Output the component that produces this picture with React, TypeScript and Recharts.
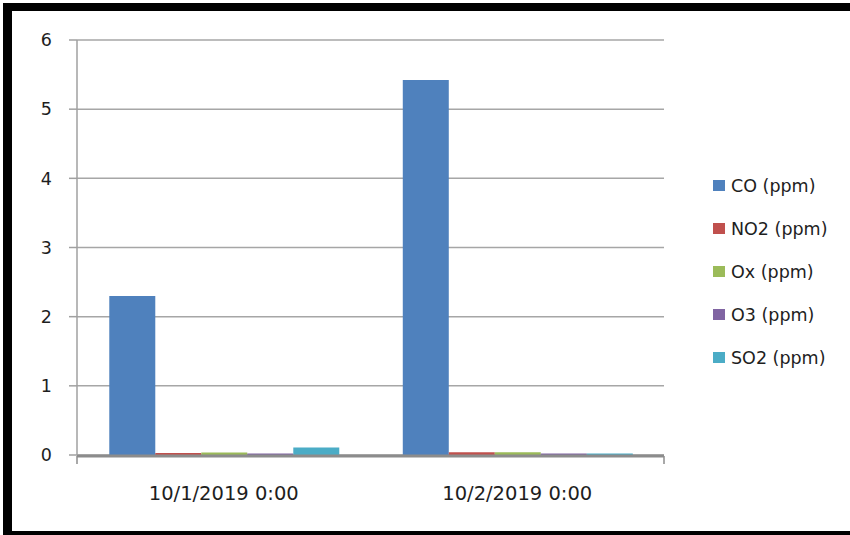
import React from 'react';
import { BarChart, Bar, XAxis, YAxis, CartesianGrid } from 'recharts';

// ─── Data ─────────────────────────────────────────────────────────────────────

const categories = ['10/1/2019 0:00', '10/2/2019 0:00'];

const coValues = [2.3, 5.42];
const no2Values = [0.03, 0.04];
const oxValues = [0.035, 0.04];
const o3Values = [0.02, 0.02];
const so2Values = [0.11, 0.02];

const yTicks = [0, 1, 2, 3, 4, 5, 6];
const edgeTicks = [0, 1, 2];

const series = [
  { key: 'co', name: 'CO (ppm)', color: '#4f81bd', values: coValues },
  { key: 'no2', name: 'NO2 (ppm)', color: '#c0504d', values: no2Values },
  { key: 'ox', name: 'Ox (ppm)', color: '#9bbb59', values: oxValues },
  { key: 'o3', name: 'O3 (ppm)', color: '#8064a2', values: o3Values },
  { key: 'so2', name: 'SO2 (ppm)', color: '#4bacc6', values: so2Values },
];

const rows = categories.map((cat, i) => {
  const row: Record<string, string | number> = { cat };
  series.forEach((s) => {
    row[s.key] = s.values[i];
  });
  return row;
});

const FONT = '"DejaVu Sans", Verdana, sans-serif';
const TEXT = '#1e1e1e';

// ─── Component ────────────────────────────────────────────────────────────────

export default function App() {
  return (
    <div
      style={{
        position: 'absolute',
        left: 0,
        top: 0,
        width: 850,
        height: 535,
        background: '#fff',
        fontFamily: FONT,
        overflow: 'hidden',
      }}
    >
      {/* black frame (top, left, bottom) */}
      <div
        style={{
          position: 'absolute',
          left: 3,
          top: 3,
          width: 838,
          height: 520,
          borderTop: '8px solid #000',
          borderLeft: '9px solid #000',
          borderBottom: '4px solid #000',
        }}
      />

      <div style={{ position: 'absolute', left: 0, top: 0 }}>
        <BarChart
          width={850}
          height={535}
          data={rows}
          margin={{ top: 40, right: 186, bottom: 20, left: 0 }}
          barCategoryGap="11%"
          barGap={0}
        >
          <CartesianGrid vertical={false} stroke="#a6a6a6" strokeWidth={1.5} />
          {series.map((s) => (
            <Bar
              key={s.key}
              xAxisId="cat"
              dataKey={s.key}
              name={s.name}
              fill={s.color}
              isAnimationActive={false}
            />
          ))}
          <XAxis
            xAxisId="edge"
            type="number"
            domain={[0, 2]}
            ticks={edgeTicks}
            height={59}
            axisLine={{ stroke: '#8c8c8c', strokeWidth: 3 }}
            tick={() => <g />}
            tickSize={8}
            tickLine={{ stroke: '#8c8c8c', strokeWidth: 1.5 }}
          />
          <XAxis
            xAxisId="cat"
            dataKey="cat"
            height={1}
            tickLine={false}
            tickSize={0}
            tickMargin={31}
            axisLine={false}
            tick={{ fontSize: 19.5, fill: TEXT, fontFamily: FONT }}
            interval={0}
          />
          <YAxis
            width={77}
            domain={[0, 6]}
            ticks={yTicks}
            interval={0}
            tickSize={8}
            tickMargin={17}
            axisLine={{ stroke: '#a0a0a0', strokeWidth: 1.5 }}
            tickLine={{ stroke: '#a0a0a0', strokeWidth: 1.5 }}
            tick={{ fontSize: 17.5, fill: TEXT, fontFamily: FONT }}
          />
        </BarChart>
      </div>

      {/* Legend */}
      <div style={{ position: 'absolute', left: 713, top: 164 }}>
        {series.map((s) => (
          <div
            key={s.key}
            style={{
              display: 'flex',
              alignItems: 'center',
              height: 43,
              fontSize: 17.5,
              color: TEXT,
            }}
          >
            <span
              style={{
                display: 'inline-block',
                width: 12,
                height: 11,
                background: s.color,
                marginRight: 6,
              }}
            />
            <span>{s.name}</span>
          </div>
        ))}
      </div>
    </div>
  );
}
